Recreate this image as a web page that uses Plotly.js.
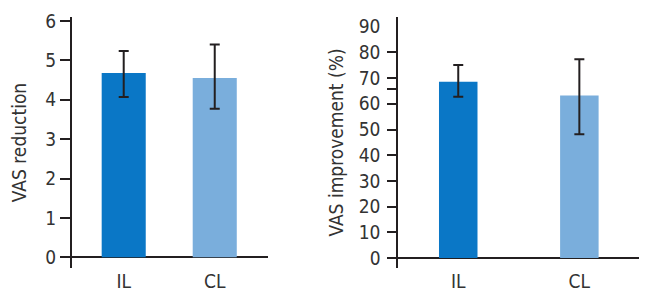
<!DOCTYPE html>
<html>
<head>
<meta charset="utf-8">
<script src="https://cdn.plot.ly/plotly-3.0.1.min.js"></script>
<style>
html,body{margin:0;padding:0;background:#fff;}
#chart{width:652px;height:300px;}
</style>
</head>
<body>
<div id="chart"></div>
<script>
// ---- data ----
var categories = ['IL', 'CL'];
var barColors = ['#0a77c6', '#7aaedc'];

var reductionMean  = [4.68, 4.55];
var reductionUpper = [5.24, 5.40];
var reductionLower = [4.07, 3.77];
var reductionTicks = [0, 1, 2, 3, 4, 5, 6];

var improvementMean  = [68.6, 63.2];
var improvementUpper = [75.1, 77.4];
var improvementLower = [62.8, 48.2];
var improvementLabels = [0, 10, 20, 30, 40, 50, 60, 70, 80, 90];
var improvementTickMarks = [0, 10, 20, 30, 40, 50, 60, 65.7, 70, 80];

function plus(m, u) { return m.map(function (v, i) { return u[i] - v; }); }
function minus(m, l) { return m.map(function (v, i) { return v - l[i]; }); }

var ink = '#231f20';
var fontFam = '"DejaVu Sans Condensed", "DejaVu Sans", sans-serif';

var traces = [
  {
    type: 'bar', x: categories, y: reductionMean, xaxis: 'x', yaxis: 'y',
    width: 0.484,
    marker: { color: barColors, line: { width: 0 } },
    error_y: {
      type: 'data', symmetric: false,
      array: plus(reductionMean, reductionUpper),
      arrayminus: minus(reductionMean, reductionLower),
      color: ink, thickness: 2, width: 5
    },
    hoverinfo: 'none', showlegend: false
  },
  {
    type: 'bar', x: categories, y: improvementMean, xaxis: 'x2', yaxis: 'y2',
    width: 0.318,
    marker: { color: barColors, line: { width: 0 } },
    error_y: {
      type: 'data', symmetric: false,
      array: plus(improvementMean, improvementUpper),
      arrayminus: minus(improvementMean, improvementLower),
      color: ink, thickness: 2, width: 5
    },
    hoverinfo: 'none', showlegend: false
  },
  {
    // invisible helper trace so the tick-mark-only axis is drawn
    type: 'scatter', mode: 'none', x: categories, y: [0, 0],
    xaxis: 'x2', yaxis: 'y3', hoverinfo: 'none', showlegend: false
  }
];

var tickFont = { family: fontFam, size: 19, color: '#333' };
var titleFont = { family: fontFam, size: 19, color: '#333' };

var layout = {
  width: 652, height: 300,
  margin: { l: 0, r: 0, t: 0, b: 0 },
  paper_bgcolor: '#fff', plot_bgcolor: '#fff',
  font: { family: fontFam, color: '#333' },
  xaxis: {
    domain: [72 / 652, 268 / 652], anchor: 'y',
    type: 'category', range: [-0.568, 1.585],
    showline: false, ticks: '', showgrid: false, zeroline: false,
    tickfont: tickFont, ticklabelstandoff: 0
  },
  yaxis: {
    domain: [1 - 268 / 300, 1 - 17 / 300], anchor: 'x',
    range: [-0.272, 6.10],
    tickvals: reductionTicks,
    showline: true, linecolor: ink, linewidth: 2,
    ticks: 'outside', ticklen: 10, tickwidth: 2, tickcolor: ink,
    showgrid: false,
    zeroline: true, zerolinecolor: ink, zerolinewidth: 2,
    tickfont: tickFont,
    title: { text: 'VAS reduction', font: titleFont, standoff: 14 }
  },
  xaxis2: {
    domain: [398.3 / 652, 639.3 / 652], anchor: 'y2',
    type: 'category', range: [-0.495, 1.495],
    showline: false, ticks: '', showgrid: false, zeroline: false,
    tickfont: tickFont, ticklabelstandoff: 0
  },
  yaxis2: {
    domain: [1 - 268 / 300, 1 - 17 / 300], anchor: 'x2',
    range: [-3.9, 93.8],
    tickvals: improvementLabels,
    showline: true, linecolor: ink, linewidth: 2,
    ticks: '', showgrid: false,
    ticklabelstandoff: 12,
    zeroline: true, zerolinecolor: ink, zerolinewidth: 2,
    tickfont: tickFont,
    title: { text: 'VAS improvement (%)', font: titleFont, standoff: 10 }
  },
  yaxis3: {
    overlaying: 'y2', anchor: 'x2', side: 'left',
    range: [-3.9, 93.8],
    tickvals: improvementTickMarks,
    showticklabels: false,
    ticks: 'outside', ticklen: 10, tickwidth: 2, tickcolor: ink,
    showline: false, showgrid: false, zeroline: false
  }
};

Plotly.newPlot('chart', traces, layout, { staticPlot: true, displayModeBar: false });
</script>
</body>
</html>
